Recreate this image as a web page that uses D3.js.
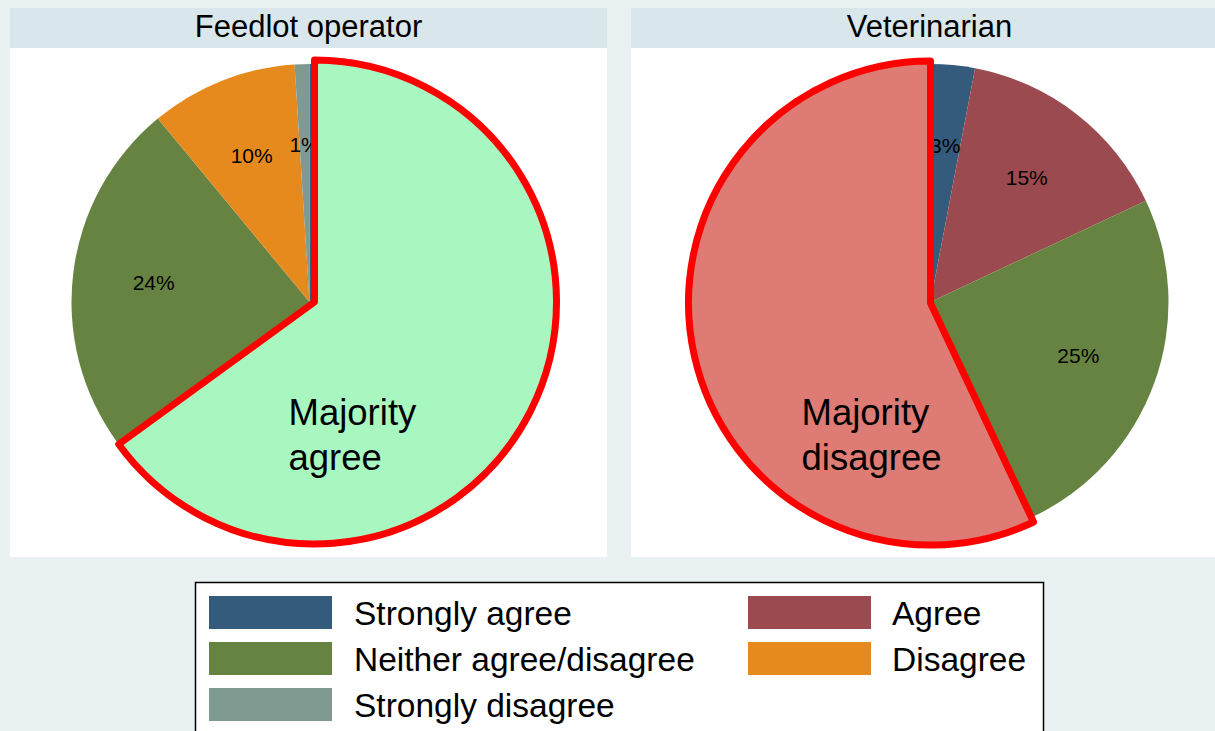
<!DOCTYPE html>
<html>
<head>
<meta charset="utf-8">
<script src="https://cdn.jsdelivr.net/npm/d3@7"></script>
<style>
  body { margin: 0; background: #e9f1f3; }
  svg { display: block; font-family: "Liberation Sans", Arial, sans-serif; }
</style>
</head>
<body>
<svg id="chart"></svg>
<script>
// categories, in the order Stata lays them out clockwise from 12 o'clock
const categories = ["Strongly agree", "Agree", "Neither agree/disagree", "Disagree", "Strongly disagree"];
const colors = ["#345a7c", "#9b4a4f", "#668342", "#e68a1d", "#7f9a90"];

const panels = ["Feedlot operator", "Veterinarian"];

// percent per category; the feedlot agree/strongly agree split sits under the overlay (sum 65%)
const feedlotPct = [22, 43, 24, 10, 1];
const vetPct = [3, 15, 25, 1, 56];

// which categories the highlighted "majority" wedge covers
const feedlotMajority = [0, 1];
const vetMajority = [3, 4];
const majorityText = [["Majority", "agree"], ["Majority", "disagree"]];
const majorityFill = ["#a8f7c1", "#de7b74"];

const W = 1215, H = 731;
const svg = d3.select("#chart").attr("width", W).attr("height", H);

svg.append("rect").attr("width", W).attr("height", H).attr("fill", "#e9f1f3");

const panelW = 597, headerTop = 8, headerH = 40, plotBottom = 557;
const panelX = [10, 631];
const radius = 238;
// the hand-drawn overlay sits a touch off the pie centre
const overlayShift = [[5, 0], [0, 1]];

const pie = d3.pie().sort(null).value(d => d);
const arc = d3.arc().innerRadius(0).outerRadius(radius);
const labelArc = d3.arc().innerRadius(radius * 0.66).outerRadius(radius * 0.66);
const overArc = d3.arc().innerRadius(0).outerRadius(radius + 4);

const data = [feedlotPct, vetPct];
const majority = [feedlotMajority, vetMajority];

panels.forEach((title, i) => {
  const g = svg.append("g").attr("transform", `translate(${panelX[i]},0)`);

  // plot region + header strip
  g.append("rect")
    .attr("x", 0).attr("y", headerTop + headerH)
    .attr("width", panelW).attr("height", plotBottom - headerTop - headerH)
    .attr("fill", "#ffffff");
  g.append("rect")
    .attr("x", 0).attr("y", headerTop)
    .attr("width", panelW).attr("height", headerH)
    .attr("fill", "#d9e6eb");
  g.append("text")
    .attr("x", panelW / 2).attr("y", 37)
    .attr("text-anchor", "middle")
    .attr("font-size", 31)
    .text(title);

  const pg = g.append("g").attr("transform", `translate(${panelW / 2 + 1},302)`);
  const arcs = pie(data[i]);

  pg.selectAll("path.slice")
    .data(arcs)
    .join("path")
    .attr("class", "slice")
    .attr("d", arc)
    .attr("fill", (d, j) => colors[j]);

  // labels only on the slices outside the majority wedge
  pg.selectAll("text.pct")
    .data(arcs.filter((d, j) => !majority[i].includes(j)))
    .join("text")
    .attr("class", "pct")
    .attr("transform", d => `translate(${labelArc.centroid(d)})`)
    .attr("text-anchor", "middle")
    .attr("dy", "0.35em")
    .attr("font-size", 21)
    .text(d => d.value + "%");

  // highlighted majority wedge drawn over the pie
  const m = majority[i];
  const wedge = {
    startAngle: arcs[m[0]].startAngle,
    endAngle: arcs[m[m.length - 1]].endAngle
  };
  pg.append("path")
    .attr("transform", `translate(${overlayShift[i]})`)
    .attr("d", overArc(wedge))
    .attr("fill", majorityFill[i])
    .attr("stroke", "#ff0000")
    .attr("stroke-width", 7)
    .attr("stroke-linejoin", "round");

  const tx = i === 0 ? -21 : -129;
  const t = pg.append("text")
    .attr("x", tx).attr("y", 123)
    .attr("font-size", 36.5);
  majorityText[i].forEach((line, k) => {
    t.append("tspan").attr("x", tx).attr("dy", k === 0 ? 0 : 45).text(line);
  });
});

// legend
const legX = 195, legY = 582;
svg.append("rect")
  .attr("x", legX + 0.5).attr("y", legY + 0.5)
  .attr("width", 848).attr("height", 200)
  .attr("fill", "#ffffff")
  .attr("stroke", "#000000")
  .attr("stroke-width", 1.5);

const colX = [209, 748], rowY = [596, 642, 688];
const leg = svg.append("g")
  .selectAll("g")
  .data(categories)
  .join("g")
  .attr("transform", (d, j) => `translate(${colX[j % 2]},${rowY[Math.floor(j / 2)]})`);

leg.append("rect")
  .attr("width", 123).attr("height", 33)
  .attr("fill", (d, j) => colors[j]);
leg.append("text")
  .attr("x", (d, j) => j % 2 === 0 ? 145 : 144)
  .attr("y", 29)
  .attr("font-size", 33.5)
  .text(d => d);
</script>
</body>
</html>
